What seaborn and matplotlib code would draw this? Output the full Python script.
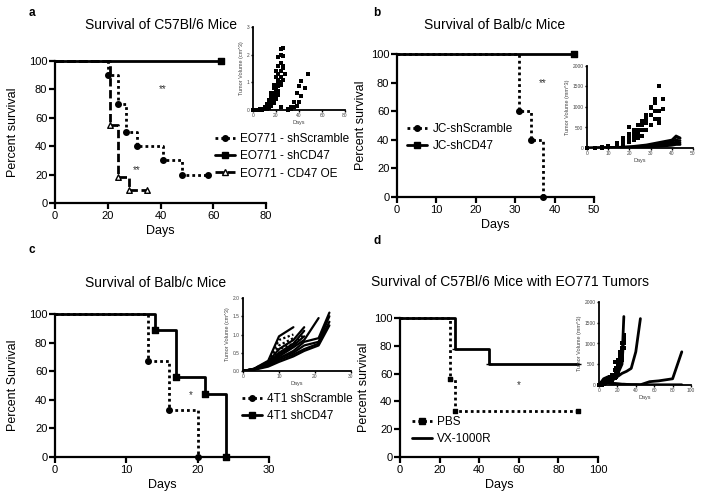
import numpy as np
import pandas as pd
import matplotlib.pyplot as plt
import seaborn as sns
from matplotlib.lines import Line2D

sns.set_theme(style="ticks")
plt.rcParams['font.family'] = ['Liberation Sans', 'DejaVu Sans']
plt.rcParams.update({'text.color': 'black', 'axes.labelcolor': 'black',
                     'xtick.color': 'black', 'ytick.color': 'black',
                     'axes.edgecolor': 'black'})

nan = np.nan
W, H = 704, 498

# ---------------- survival data ----------------
# a: EO771 in C57Bl/6
a_scr_days = [0, 20, 24, 27, 31, 41, 48, 58]
a_scr_surv = [100, 90, 70, 50, 40, 30, 20, 20]
a_cd47_days = [0, 63]
a_cd47_surv = [100, 100]
a_oe_days = [0, 21, 24, 28, 35]
a_oe_surv = [100, 55, 18, 9, 9]

# b: JC in Balb/c
b_scr_days = [0, 31, 34, 37]
b_scr_surv = [100, 60, 40, 0]
b_cd47_days = [0, 45]
b_cd47_surv = [100, 100]

# c: 4T1 in Balb/c
c_scr_days = [0, 13, 16, 20]
c_scr_surv = [100, 67, 33, 0]
c_cd47_days = [0, 14, 17, 21, 24]
c_cd47_surv = [100, 89, 56, 44, 0]

# d: EO771 tumors, PBS vs VX-1000R
d_pbs_days = [0, 25, 28, 90]
d_pbs_surv = [100, 56, 33, 33]
d_vx_days = [0, 28, 45, 90]
d_vx_surv = [100, 78, 67, 67]

# ---------------- tumour growth insets ----------------
ia_days = [0, 3, 6, 8, 10, 12, 14, 16, 18, 20, 22, 24, 26, 28]
ia_mice = [
    [0, 0.01, 0.02, 0.04, 0.08, 0.15, 0.30, 0.50, 0.80, 1.20, 1.60, 2.20, nan, nan],
    [0, 0.01, 0.03, 0.05, 0.10, 0.20, 0.35, 0.60, 0.90, 1.40, 1.90, 2.00, 2.25, nan],
    [0, 0.01, 0.02, 0.03, 0.06, 0.12, 0.25, 0.40, 0.60, 0.90, 1.30, 1.70, 1.95, nan],
    [0, 0.01, 0.02, 0.03, 0.05, 0.10, 0.20, 0.35, 0.55, 0.80, 1.10, 1.40, 1.60, 1.30],
    [0, 0.00, 0.01, 0.02, 0.04, 0.08, 0.15, 0.30, 0.45, 0.70, 0.95, 1.20, 1.50, nan],
    [0, 0.00, 0.01, 0.02, 0.03, 0.06, 0.12, 0.25, 0.40, 0.60, 0.85, 1.00, nan, nan],
    [0, 0.00, 0.01, 0.02, 0.03, 0.05, 0.10, 0.20, 0.30, 0.50, 0.70, 0.90, 1.10, nan],
    [0, 0.00, 0.00, 0.01, 0.02, 0.04, 0.08, 0.15, 0.25, 0.40, 0.55, 0.10, nan, nan],
]
ia_late_days = [30, 33, 36, 38, 40, 42, 45, 48]
ia_late_mice = [
    [0.05, 0.10, 0.30, 0.60, 0.85, 1.05, nan, nan],
    [0.00, 0.05, 0.10, 0.15, 0.30, 0.50, 0.80, 1.30],
]

ib_days = [0, 4, 7, 10, 14, 17, 20, 22, 24, 26, 28, 30, 32, 34, 36]
ib_scr = [
    [0, 10, 30, 60, 120, 250, 500, 430, 560, 650, 800, 1000, 1200, 1520, nan],
    [0, 5, 20, 40, 90, 200, 350, 400, 450, 550, 700, 980, 1100, 900, 1200],
    [0, 5, 15, 30, 60, 150, 250, 300, 350, 450, 600, 800, 900, 700, 950],
    [0, 5, 10, 20, 40, 80, 150, 200, 250, 300, 450, 550, 700, 600, nan],
]
ib_cd_days = [0, 7, 14, 21, 28, 35, 40, 42, 44]
ib_cd47 = [
    [0, 10, 20, 40, 80, 150, 200, 300, 250],
    [0, 5, 15, 30, 60, 120, 180, 260, 230],
    [0, 5, 10, 25, 50, 100, 150, 200, 180],
    [0, 5, 10, 20, 40, 80, 120, 150, 140],
    [0, 3, 8, 15, 30, 60, 90, 110, 100],
    [0, 2, 5, 10, 20, 40, 60, 80, 80],
]

ic_days = [0, 3, 7, 10, 14, 17, 21, 24]
ic_cd47 = [
    [0, 0.06, 0.28, 0.95, 1.20, nan, nan, nan],
    [0, 0.05, 0.25, 0.60, 0.85, 1.20, nan, nan],
    [0, 0.05, 0.20, 0.50, 0.75, 1.10, nan, nan],
    [0, 0.05, 0.20, 0.45, 0.70, 0.95, nan, nan],
    [0, 0.05, 0.20, 0.40, 0.65, 0.85, 1.45, nan],
    [0, 0.05, 0.20, 0.35, 0.55, 0.80, 0.90, 1.60],
    [0, 0.04, 0.15, 0.35, 0.50, 0.70, 0.80, 1.50],
    [0, 0.04, 0.15, 0.30, 0.45, 0.60, 0.75, 1.35],
    [0, 0.03, 0.12, 0.25, 0.40, 0.55, 0.70, 1.25],
]
ic_scr = [
    [0, 0.06, 0.25, 0.85, 1.00, nan, nan, nan],
    [0, 0.05, 0.22, 0.70, 0.90, nan, nan, nan],
    [0, 0.05, 0.20, 0.60, 0.75, 1.00, nan, nan],
]

id_pbs_days = [0, 3, 5, 7, 10, 12, 14, 17, 19, 21, 23, 25, 27]
id_pbs = [
    [0, 30, 60, 100, 150, 180, 250, 550, 400, 600, 800, 1000, 1200],
    [0, 20, 50, 80, 120, 150, 200, 350, 300, 500, 700, 900, 1100],
    [0, 10, 40, 60, 100, 120, 150, 250, 250, 400, 600, 800, 1000],
    [0, 10, 30, 50, 80, 100, 120, 200, 200, 300, 500, 700, 900],
    [0, 40, 80, 120, 180, 200, 150, 180, 220, 350, 450, 600, nan],
]
id_vx_days = [0, 5, 10, 15, 20, 25, 27, 30, 35, 40, 45, 55, 65, 80, 90]
id_vx = [
    [0, 150, 200, 180, 300, 600, 1650, nan, nan, nan, nan, nan, nan, nan, nan],
    [0, 100, 180, 150, 250, 500, 1200, nan, nan, nan, nan, nan, nan, nan, nan],
    [0, 100, 150, 120, 200, 280, 300, 330, 400, 800, 1600, nan, nan, nan, nan],
    [0, 50, 60, 40, 30, 20, 20, 15, 10, 10, 5, 80, 100, 150, 800],
    [0, 40, 50, 30, 20, 15, 10, 10, 5, 5, 5, 5, 5, 5, 5],
]


def long_df(days, mice):
    rows = []
    for i, vols in enumerate(mice):
        for d, v in zip(days, vols):
            if not np.isnan(v):
                rows.append((i, d, v))
    return pd.DataFrame(rows, columns=['mouse', 'day', 'vol'])


DOT = (0, (1, 1.1))
DASH = (0, (3, 1.3))
LW = 2.0


def px_axes(fig, left, top, right, bottom):
    return fig.add_axes([left / W, 1 - bottom / H, (right - left) / W, (bottom - top) / H])


def style_main(ax, xmax, xstep):
    ax.set_xlim(0, xmax)
    ax.set_ylim(0, 100)
    ax.set_xticks(np.arange(0, xmax + 1, xstep))
    ax.set_yticks(np.arange(0, 101, 20))
    sns.despine(ax=ax)
    for s in ['left', 'bottom']:
        ax.spines[s].set_linewidth(1.6)
    ax.tick_params(length=4, width=1.6, labelsize=8, pad=1.5)
    ax.set_facecolor('none')


def style_inset(ax, xmax, xstep, ymax, ystep, ylabel, fmt=None):
    ax.set_xlim(0, xmax)
    ax.set_ylim(0, ymax)
    ax.set_xticks(np.arange(0, xmax + 0.01, xstep))
    ax.set_yticks(np.arange(0, ymax + 0.001, ystep))
    if fmt:
        ax.set_yticklabels([fmt.format(v) for v in np.arange(0, ymax + 0.001, ystep)])
    sns.despine(ax=ax)
    for s in ['left', 'bottom']:
        ax.spines[s].set_linewidth(1.3)
    ax.tick_params(length=1.5, width=1.0, labelsize=3.5, pad=1, labelcolor='#444444')
    ax.set_xlabel('Days', fontsize=4, color='#444444', labelpad=1)
    ax.set_ylabel(ylabel, fontsize=4, color='#444444', labelpad=2)
    ax.set_facecolor('none')


def surv(ax, days, vals, ls, marker, mfc='black', ms=16):
    sns.lineplot(x=days, y=vals, ax=ax, color='black', lw=LW, linestyle=ls,
                 drawstyle='steps-post', estimator=None, sort=False, clip_on=False)
    sns.scatterplot(x=days[1:], y=vals[1:], ax=ax, marker=marker, s=ms, color=mfc,
                    edgecolor='black', linewidth=1.0, clip_on=False, zorder=5)


def handle(ls, marker, mfc='black'):
    return Line2D([], [], color='black', lw=LW, linestyle=ls, marker=marker, ms=4,
                  mfc=mfc, mec='black')


def legend(ax, handles, labels, left, top):
    ax.legend(handles, labels, loc='upper left', bbox_to_anchor=(left / W, 1 - top / H),
              bbox_transform=fig.transFigure, frameon=False, fontsize=8.5, handlelength=1.7,
              handletextpad=0.45, labelspacing=0.45, borderpad=0, borderaxespad=0)


fig = plt.figure(figsize=(7.04, 4.98), dpi=100)


def ftext(x, y, s, **kw):
    fig.text(x / W, 1 - y / H, s, **kw)


# ---------------- panel a ----------------
ax = px_axes(fig, 55, 61, 266, 203)
surv(ax, a_cd47_days, a_cd47_surv, '-', 's')
surv(ax, a_scr_days, a_scr_surv, DOT, 'o')
surv(ax, a_oe_days, a_oe_surv, DASH, '^', mfc='white')
style_main(ax, 80, 20)
ax.set_xlabel('Days', fontsize=9, labelpad=3)
ax.set_ylabel('Percent survival', fontsize=9, labelpad=7)
ax.text(41, 80, '**', fontsize=7, ha='center', va='center', color='#333333')
ax.text(31, 23, '**', fontsize=7, ha='center', va='center', color='#333333')
legend(ax, [handle(DOT, 'o'), handle('-', 's'), handle(DASH, '^', 'white')],
       ['EO771 - shScramble', 'EO771 - shCD47', 'EO771 - CD47 OE'], 215, 133)

ia = px_axes(fig, 253, 27, 345, 110)
sns.scatterplot(data=long_df(ia_days, ia_mice), x='day', y='vol', ax=ia, marker='s', s=5,
                color='black', linewidth=0, clip_on=False)
sns.scatterplot(data=long_df(ia_late_days, ia_late_mice), x='day', y='vol', ax=ia, marker='s',
                s=5, color='black', linewidth=0, clip_on=False)
style_inset(ia, 80, 20, 3, 1, 'Tumor Volume (cm^3)')

# ---------------- panel b ----------------
ax = px_axes(fig, 397, 54, 594, 197)
surv(ax, b_cd47_days, b_cd47_surv, '-', 's')
surv(ax, b_scr_days, b_scr_surv, DOT, 'o')
style_main(ax, 50, 10)
ax.set_xlabel('Days', fontsize=9, labelpad=3)
ax.set_ylabel('Percent survival', fontsize=9, labelpad=3)
ax.text(37, 80, '**', fontsize=7, ha='center', va='center', color='#333333')
legend(ax, [handle(DOT, 'o'), handle('-', 's')], ['JC-shScramble', 'JC-shCD47'], 407, 123)

ib = px_axes(fig, 587, 66, 693, 148)
sns.scatterplot(data=long_df(ib_days, ib_scr), x='day', y='vol', ax=ib, marker='s', s=5,
                color='black', linewidth=0, clip_on=False)
sns.lineplot(data=long_df(ib_cd_days, ib_cd47), x='day', y='vol', units='mouse', estimator=None,
             ax=ib, color='black', lw=1.6)
style_inset(ib, 50, 10, 2000, 500, 'Tumor Volume (mm^3)')

# ---------------- panel c ----------------
ax = px_axes(fig, 55, 314, 269, 457)
surv(ax, c_cd47_days, c_cd47_surv, '-', 's')
surv(ax, c_scr_days, c_scr_surv, DOT, 'o')
style_main(ax, 30, 10)
ax.set_xlabel('Days', fontsize=9, labelpad=3)
ax.set_ylabel('Percent Survival', fontsize=9, labelpad=7)
ax.text(19, 43, '*', fontsize=7, ha='center', va='center', color='#333333')
legend(ax, [handle(DOT, 'o'), handle('-', 's')], ['4T1 shScramble', '4T1 shCD47'], 242, 393)

ic = px_axes(fig, 243, 298, 351, 371)
sns.lineplot(data=long_df(ic_days, ic_cd47), x='day', y='vol', units='mouse', estimator=None,
             ax=ic, color='black', lw=1.6)
sns.lineplot(data=long_df(ic_days, ic_scr), x='day', y='vol', units='mouse', estimator=None,
             ax=ic, color='black', lw=1.6, linestyle=DOT)
style_inset(ic, 30, 10, 2.0, 0.5, 'Tumor Volume (cm^3)', fmt='{:.1f}')

# ---------------- panel d ----------------
ax = px_axes(fig, 400, 318, 598, 457)
surv(ax, d_vx_days, d_vx_surv, '-', '_', ms=14)
surv(ax, d_pbs_days, d_pbs_surv, DOT, 's', ms=7)
style_main(ax, 100, 20)
ax.set_xlabel('Days', fontsize=9, labelpad=3)
ax.set_ylabel('Percent survival', fontsize=9, labelpad=3)
ax.text(60, 52, '*', fontsize=7, ha='center', va='center', color='#333333')
legend(ax, [handle(DOT, 's'), handle('-', None)], ['PBS', 'VX-1000R'], 412, 416)

idx = px_axes(fig, 599, 302, 691, 385)
sns.scatterplot(data=long_df(id_pbs_days, id_pbs), x='day', y='vol', ax=idx, marker='s', s=5,
                color='black', linewidth=0, clip_on=False)
sns.lineplot(data=long_df(id_vx_days, id_vx), x='day', y='vol', units='mouse', estimator=None,
             ax=idx, color='black', lw=2.0)
style_inset(idx, 100, 20, 2000, 500, 'Tumor Volume (mm^3)')

# ---------------- titles and panel letters ----------------
ftext(161, 25, 'Survival of C57Bl/6 Mice', fontsize=10, ha='center', va='center')
ftext(495, 25, 'Survival of Balb/c Mice', fontsize=10, ha='center', va='center')
ftext(156, 283, 'Survival of Balb/c Mice', fontsize=10, ha='center', va='center')
ftext(371, 282, 'Survival of C57Bl/6 Mice with EO771 Tumors', fontsize=10, ha='left', va='center')
for x, y, s in [(32, 13, 'a'), (377, 13, 'b'), (32, 250, 'c'), (377, 241, 'd')]:
    ftext(x, y, s, fontsize=8.5, fontweight='bold', ha='center', va='center')

fig.savefig('out.png', dpi=100)
